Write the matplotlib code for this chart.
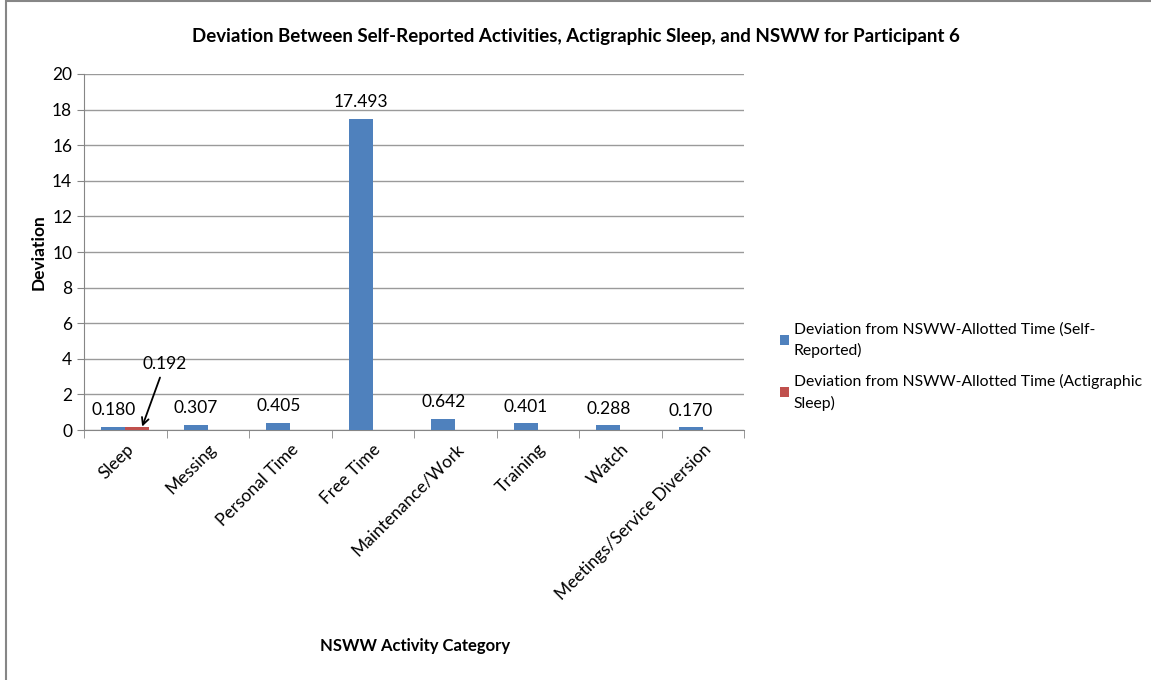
import matplotlib.pyplot as plt
import numpy as np
from matplotlib.patches import Rectangle

categories = ["Sleep", "Messing", "Personal Time", "Free Time", "Maintenance/Work",
              "Training", "Watch", "Meetings/Service Diversion"]
self_reported = [0.180, 0.307, 0.405, 17.493, 0.642, 0.401, 0.288, 0.170]
actigraphic = [0.192, 0, 0, 0, 0, 0, 0, 0]
series_names = ["Deviation from NSWW-Allotted Time (Self-\nReported)",
                "Deviation from NSWW-Allotted Time (Actigraphic\nSleep)"]

plt.rcParams['font.family'] = ['Lato', 'DejaVu Sans']

fig = plt.figure(figsize=(11.51, 6.8), dpi=100)
ax = fig.add_axes([0.073, 0.3676, 0.5734, 0.5236])

x = np.arange(len(categories))
w = 0.29
b1 = ax.bar(x - w / 2, self_reported, w, color="#4F81BD", label=series_names[0], zorder=3)
b2 = ax.bar(x + w / 2, actigraphic, w, color="#C0504D", label=series_names[1], zorder=3)

for xi, v in zip(x, self_reported):
    ax.annotate("%.3f" % v, (xi - w / 2, v), xytext=(0, 6), textcoords="offset points",
                ha="center", va="bottom", fontsize=12.5)

ax.annotate("%.3f" % actigraphic[0], xy=(x[0] + w / 2 + 0.06, actigraphic[0]),
            xytext=(x[0] + 0.48, 3.7), ha="center", va="center", fontsize=12.5,
            arrowprops=dict(arrowstyle="->", color="black", lw=1.3, shrinkA=2, shrinkB=0))

ax.set_xlim(-0.5, len(categories) - 0.5)
ax.set_ylim(0, 20)
ax.set_yticks(np.arange(0, 21, 2))
ax.yaxis.grid(True, color="#9A9A9A", lw=1)
ax.set_axisbelow(True)
ax.set_xticks(x)
ax.set_xticklabels(categories, rotation=45, ha="right", rotation_mode="anchor", fontsize=12.5)
ax.set_xticks(np.arange(-0.5, len(categories) + 0.5, 1), minor=True)
ax.tick_params(axis="x", which="major", length=0, pad=8)
ax.tick_params(axis="x", which="minor", length=6, color="#868686")
ax.tick_params(axis="y", length=5, color="#868686", labelsize=12.5)
for s in ["top", "right"]:
    ax.spines[s].set_visible(False)
for s in ["left", "bottom"]:
    ax.spines[s].set_color("#868686")

ax.set_ylabel("Deviation", fontsize=12.5, fontweight="bold", labelpad=4)
fig.text(0.361, 0.05, "NSWW Activity Category", ha="center", va="center",
         fontsize=12, fontweight="bold")
fig.text(0.5, 0.947, "Deviation Between Self-Reported Activities, Actigraphic Sleep, and NSWW for Participant 6",
         ha="center", va="center", fontsize=13.5, fontweight="bold")

leg = fig.legend(handles=[b1, b2], loc="center left", bbox_to_anchor=(0.665, 0.461),
                 frameon=False, fontsize=11.3, handlelength=0.6, handleheight=0.6,
                 handletextpad=0.3, labelspacing=1.0)
for t in leg.get_texts():
    t.set_linespacing(1.55)

fig.patches.append(Rectangle((0.005, -0.1), 1.1, 1.098, transform=fig.transFigure,
                             fill=False, edgecolor="#868686", lw=1.5))

fig.savefig("out.png", dpi=100)
